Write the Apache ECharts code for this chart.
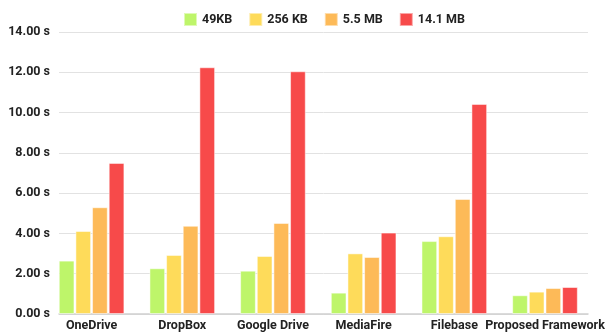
<!DOCTYPE html>
<html><head><meta charset="utf-8">
<script src="https://cdn.jsdelivr.net/npm/echarts@6/dist/echarts.min.js"></script>
<style>html,body{margin:0;padding:0;background:#fff}#c{width:607px;height:333px}</style>
</head><body><div id="c"></div>
<script>
const categories = ["OneDrive","DropBox","Google Drive","MediaFire","Filebase","Proposed Framework"];
const seriesNames = ["49KB","256 KB","5.5 MB","14.1 MB"];
const s49KB = [2.65, 2.27, 2.15, 1.06, 3.62, 0.93];
const s256KB = [4.12, 2.93, 2.88, 3.01, 3.86, 1.11];
const s55MB = [5.30, 4.38, 4.52, 2.83, 5.71, 1.29];
const s141MB = [7.50, 12.25, 12.05, 4.04, 10.43, 1.34];
const colors = ["#bef56a","#fedb5a","#fdba58","#f74a4a"];
const values = [s49KB, s256KB, s55MB, s141MB];
const font = "Roboto";
const lab = {fontFamily:font,fontSize:12.5,fontWeight:'bold',color:'#222'};
const chart = echarts.init(document.getElementById('c'));
chart.setOption({
  animation:false,
  legend:{top:7,left:178,itemWidth:13,itemHeight:13,itemGap:16,icon:'rect',
    textStyle:lab, data:seriesNames},
  grid:[{left:59,right:19,top:32,bottom:19},{left:46.25,right:6.25,top:32,bottom:19}],
  xAxis:[{type:'category',gridIndex:0,data:categories,
    axisLine:{lineStyle:{color:'#d0d0d0',width:1.5}},axisTick:{show:false},axisLabel:{show:false}},
    {type:'category',gridIndex:1,data:categories,
    axisLine:{show:false},axisTick:{show:false},
    axisLabel:Object.assign({margin:5,interval:0},lab)}],
  yAxis:[{type:'value',gridIndex:0,min:0,max:14,interval:2,
    axisLine:{show:false},axisTick:{show:false},
    splitLine:{lineStyle:{color:'#e2e2e2',width:1}},
    axisLabel:Object.assign({margin:9,formatter:v=>v.toFixed(2)+' s'},lab)},
    {type:'value',gridIndex:1,min:0,max:14,interval:2,show:false,splitLine:{show:false}}],
  series: seriesNames.map((n,i)=>({name:n,type:'bar',data:values[i],xAxisIndex:1,yAxisIndex:1,
    barGap:'6%',barCategoryGap:'27.6%',
    itemStyle:{color:colors[i],borderColor:'rgba(255,255,255,0.5)',borderWidth:1}}))
});
</script></body></html>
